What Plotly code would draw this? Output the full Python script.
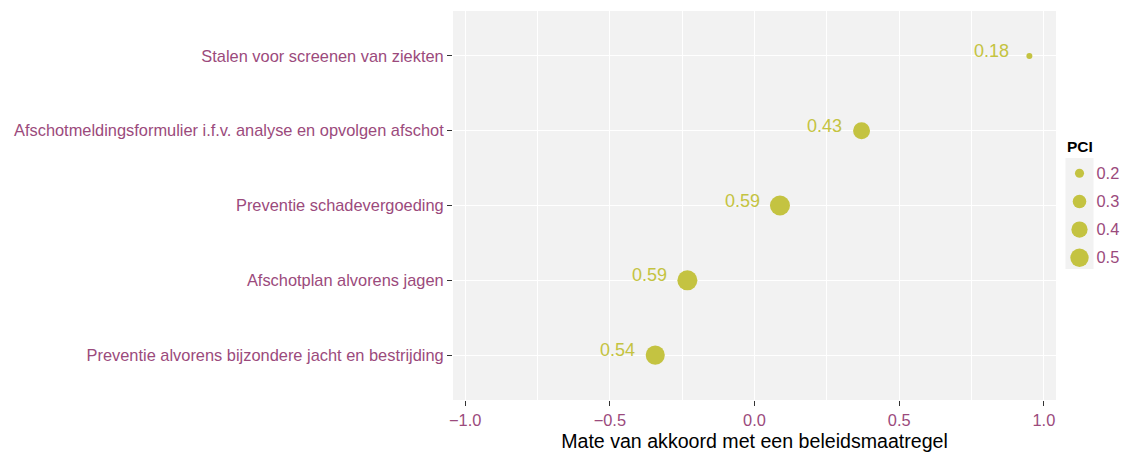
import plotly.graph_objects as go

# Figure fills the whole window; body margin removed in the page
W, H = 1125, 452

# Data (top to bottom as shown)
categories = [
    "Stalen voor screenen van ziekten",
    "Afschotmeldingsformulier i.f.v. analyse en opvolgen afschot",
    "Preventie schadevergoeding",
    "Afschotplan alvorens jagen",
    "Preventie alvorens bijzondere jacht en bestrijding",
]
agreement = [0.95, 0.37, 0.088, -0.232, -0.343]
pci = [0.18, 0.43, 0.59, 0.59, 0.54]

x_ticks = [-1.0, -0.5, 0.0, 0.5, 1.0]
x_ticklabels = ["\u22121.0", "\u22120.5", "0.0", "0.5", "1.0"]
legend_breaks = [0.2, 0.3, 0.4, 0.5]
legend_labels = ["0.2", "0.3", "0.4", "0.5"]

OLIVE = "#C4C341"
PURPLE = "#9B4A7C"
PANEL = "#F2F2F2"
FONT = "Liberation Sans, Arial, sans-serif"

# size scale (area-like, as in ggplot scale_size)
vmin, vmax = min(pci), max(pci)
DMIN, DMAX = 6.0, 20.0


def size_of(v):
    t = (v - vmin) / (vmax - vmin)
    t = max(0.0, min(1.0, t))
    return DMIN + (DMAX - DMIN) * t ** 0.5


def fx(px):  # pixel x -> paper fraction
    return px / W


def fy(py):  # pixel y -> paper fraction (from bottom)
    return 1 - py / H


fig = go.Figure()
fig.add_trace(go.Scatter(
    x=agreement, y=categories, mode="markers",
    marker=dict(color=OLIVE, opacity=1, size=[size_of(v) for v in pci], line=dict(width=0)),
    showlegend=False, hoverinfo="skip",
))

# Legend keys, drawn on their own small axes
fig.add_trace(go.Scatter(
    x=[0.5] * len(legend_breaks), y=legend_breaks, mode="markers",
    marker=dict(color=OLIVE, opacity=1, size=[size_of(v) for v in legend_breaks], line=dict(width=0)),
    xaxis="x2", yaxis="y2", showlegend=False, hoverinfo="skip",
))

annotations = []
for xv, cat, p in zip(agreement, categories, pci):
    annotations.append(dict(
        x=xv, y=cat, xref="x", yref="y", text=f"{p:.2f}", showarrow=False,
        xanchor="right", yanchor="middle", xshift=-18, yshift=5,
        font=dict(family=FONT, size=18, color=OLIVE),
    ))
annotations.append(dict(
    x=fx(1064.5), y=fy(146.5), xref="paper", yref="paper", text="<b>PCI</b>",
    showarrow=False, xanchor="left", yanchor="middle",
    font=dict(family=FONT, size=15.5, color="#000000"),
))

fig.update_layout(
    width=W, height=H,
    margin=dict(l=0, r=0, t=0, b=0),
    paper_bgcolor="white", plot_bgcolor=PANEL,
    font=dict(family=FONT, size=16, color=PURPLE),
    showlegend=False,
    annotations=annotations,
    xaxis=dict(
        domain=[fx(453), fx(1056)], range=[-1.042, 1.042], automargin=False,
        tickvals=x_ticks, ticktext=x_ticklabels,
        tickfont=dict(family=FONT, size=16.4, color=PURPLE),
        ticks="outside", ticklen=5, tickcolor="#333333", tickwidth=1.4,
        showgrid=True, gridcolor="white", gridwidth=1.4,
        minor=dict(dtick=0.25, showgrid=True, gridcolor="white", gridwidth=0.7, ticks=""),
        zeroline=False, showline=False,
        title=dict(text="Mate van akkoord met een beleidsmaatregel",
                   font=dict(family=FONT, size=19.6, color="#000000"), standoff=10),
        anchor="y",
    ),
    yaxis=dict(
        domain=[fy(400), fy(11)], type="category",
        categoryorder="array", categoryarray=categories,
        range=[len(categories) - 0.4, -0.6], automargin=False,
        tickfont=dict(family=FONT, size=16.4, color=PURPLE),
        ticks="outside", ticklen=5, tickcolor="#333333", tickwidth=1.4,
        showgrid=True, gridcolor="white", gridwidth=1.4,
        zeroline=False, showline=False, anchor="x",
    ),
    xaxis2=dict(
        domain=[fx(1065.5), fx(1093.5)], range=[0, 1], showgrid=False, zeroline=False,
        showticklabels=False, ticks="", anchor="y2", fixedrange=True,
    ),
    yaxis2=dict(
        domain=[fy(269), fy(158)], range=[0.540, 0.1456],
        tickvals=legend_breaks, ticktext=legend_labels, side="right",
        showgrid=False, zeroline=False, ticks="", anchor="x2",
        ticklabelstandoff=2,
        tickfont=dict(family=FONT, size=16.4, color=PURPLE), automargin=False,
    ),
)

fig.write_html(
    "out.html",
    config={"displayModeBar": False},
    post_script="document.body.style.margin='0px';document.body.style.overflow='hidden';",
)
